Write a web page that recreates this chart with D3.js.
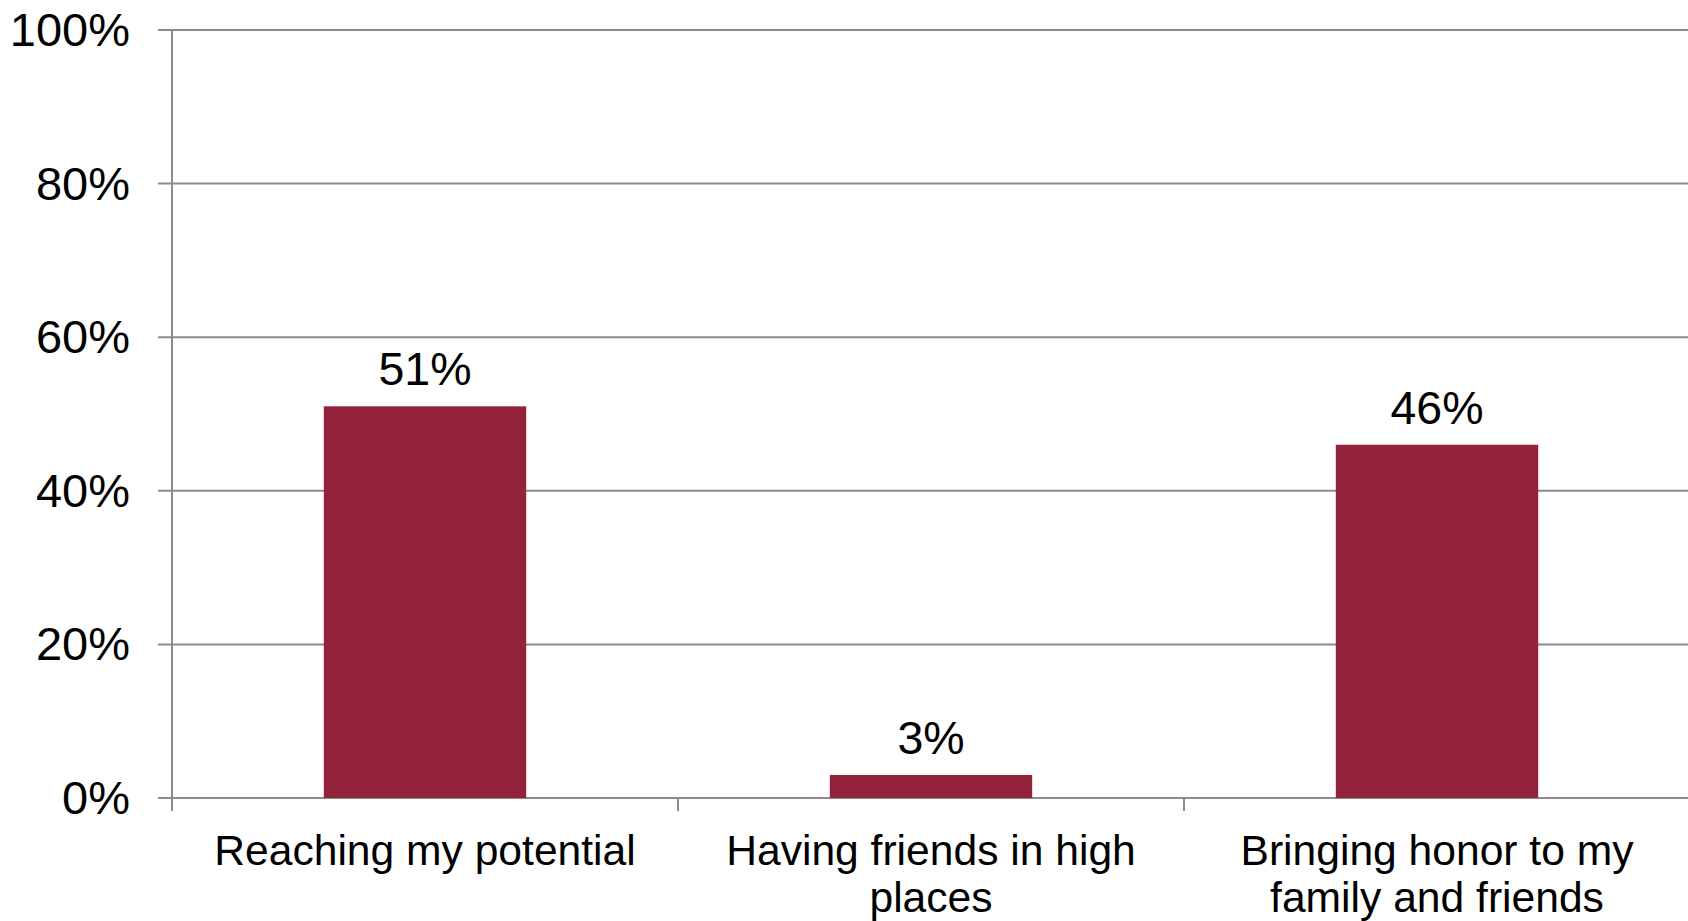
<!DOCTYPE html>
<html>
<head>
<meta charset="utf-8">
<script src="https://cdn.jsdelivr.net/npm/d3@7/dist/d3.min.js"></script>
<style>
  html, body { margin: 0; padding: 0; background: #ffffff; }
  svg { display: block; font-family: "Liberation Sans", Arial, sans-serif; }
</style>
</head>
<body>
<svg id="chart" width="1688" height="921"></svg>
<script>
// Survey answers and their shares (percent)
const categories = ["Reaching my potential", "Having friends in high places", "Bringing honor to my family and friends"];
const shares = [51, 3, 46];
const yTicks = [0, 20, 40, 60, 80, 100];

const W = 1688, H = 921;
const margin = { left: 172, right: -2, top: 30, bottom: 123 };

const svg = d3.select("#chart");

const x = d3.scaleBand()
  .domain(categories)
  .range([margin.left, W - margin.right])
  .paddingInner(0.6)
  .paddingOuter(0.3);

const y = d3.scaleLinear()
  .domain([0, 100])
  .range([H - margin.bottom, margin.top]);

const gridColor = "#8c8c8c";

// horizontal gridlines, extended left past the axis as tick marks
svg.append("g")
  .selectAll("line")
  .data(yTicks)
  .join("line")
  .attr("x1", margin.left - 14)
  .attr("x2", W)
  .attr("y1", d => y(d))
  .attr("y2", d => y(d))
  .attr("stroke", gridColor)
  .attr("stroke-width", 2);

// y axis labels
const yAxis = d3.axisLeft(y)
  .tickValues(yTicks)
  .tickFormat(d => d + "%")
  .tickSize(0)
  .tickPadding(42);

svg.append("g")
  .attr("transform", `translate(${margin.left},0)`)
  .call(yAxis)
  .call(g => g.select(".domain").remove())
  .call(g => g.selectAll("text")
    .attr("font-size", 47)
    .attr("fill", "#000")
    .attr("dy", "0.33em"));

// vertical axis line
svg.append("line")
  .attr("x1", margin.left).attr("x2", margin.left)
  .attr("y1", y(100)).attr("y2", y(0) + 13)
  .attr("stroke", gridColor)
  .attr("stroke-width", 2);

// category separators below the baseline
const step = x.step();
const boundaries = d3.range(categories.length + 1).map(i => x(categories[0]) - x.paddingOuter() * step + i * step);
svg.append("g")
  .selectAll("line")
  .data(boundaries)
  .join("line")
  .attr("x1", d => d).attr("x2", d => d)
  .attr("y1", y(0)).attr("y2", y(0) + 13)
  .attr("stroke", gridColor)
  .attr("stroke-width", 2);

// bars
svg.append("g")
  .selectAll("rect")
  .data(categories)
  .join("rect")
  .attr("x", d => x(d))
  .attr("width", x.bandwidth())
  .attr("y", (d, i) => y(shares[i]))
  .attr("height", (d, i) => y(0) - y(shares[i]))
  .attr("fill", "#93233a");

// value labels above bars
svg.append("g")
  .selectAll("text")
  .data(categories)
  .join("text")
  .attr("x", d => x(d) + x.bandwidth() / 2)
  .attr("y", (d, i) => y(shares[i]) - 21)
  .attr("text-anchor", "middle")
  .attr("font-size", 46.5)
  .attr("fill", "#000")
  .text((d, i) => shares[i] + "%");

// category labels, wrapped to fit the band
const catG = svg.append("g");
categories.forEach(cat => {
  const t = catG.append("text")
    .attr("x", x(cat) + x.bandwidth() / 2)
    .attr("y", y(0) + 67)
    .attr("text-anchor", "middle")
    .attr("font-size", 42.6)
    .attr("fill", "#000");
  const words = cat.split(" ");
  let line = [];
  let tspan = t.append("tspan").attr("x", x(cat) + x.bandwidth() / 2).attr("dy", 0);
  words.forEach(w => {
    line.push(w);
    tspan.text(line.join(" "));
    if (tspan.node().getComputedTextLength() > 455 && line.length > 1) {
      line.pop();
      tspan.text(line.join(" "));
      line = [w];
      tspan = t.append("tspan").attr("x", x(cat) + x.bandwidth() / 2).attr("dy", 47).text(w);
    }
  });
});
</script>
</body>
</html>
